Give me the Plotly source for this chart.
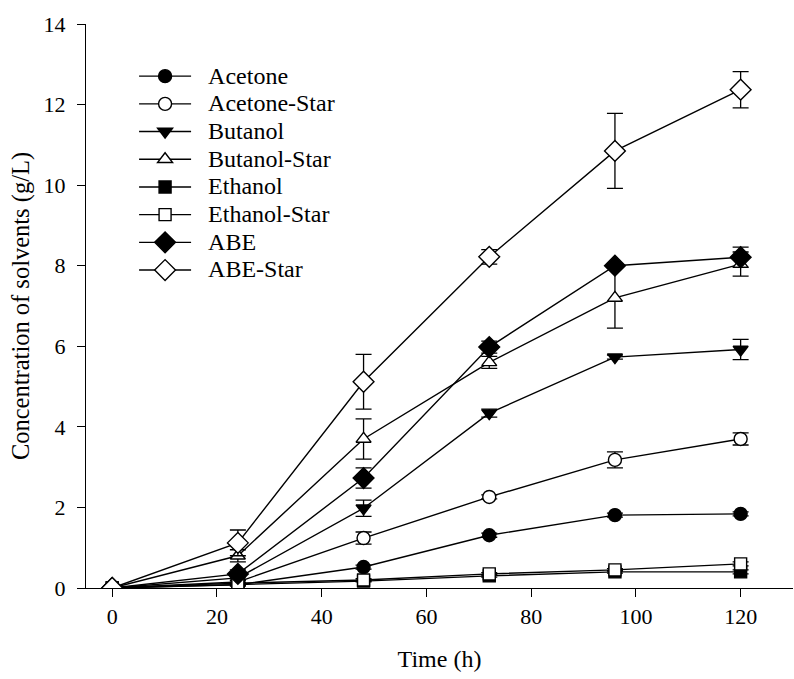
import plotly.graph_objects as go

time_h = [0, 24, 48, 72, 96, 120]

acetone = [0, 0.08, 0.52, 1.31, 1.81, 1.84]
acetone_err = [0, 0.03, 0.05, 0.05, 0.05, 0.05]
acetone_star = [0, 0.15, 1.24, 2.26, 3.18, 3.70]
acetone_star_err = [0, 0.03, 0.15, 0.05, 0.2, 0.15]
butanol = [0, 0.25, 1.98, 4.34, 5.73, 5.92]
butanol_err = [0, 0.05, 0.2, 0.1, 0.05, 0.25]
butanol_star = [0, 0.80, 3.70, 5.60, 7.20, 8.04]
butanol_star_err = [0, 0.15, 0.5, 0.15, 0.75, 0.3]
ethanol = [0, 0.08, 0.17, 0.30, 0.40, 0.40]
ethanol_err = [0, 0.02, 0.02, 0.03, 0.03, 0.05]
ethanol_star = [0, 0.12, 0.20, 0.35, 0.45, 0.60]
ethanol_star_err = [0, 0.02, 0.03, 0.03, 0.03, 0.05]
abe = [0, 0.35, 2.73, 5.98, 8.00, 8.21]
abe_err = [0, 0.1, 0.25, 0.15, 0.05, 0.25]
abe_star = [0, 1.12, 5.12, 8.22, 10.85, 12.37]
abe_star_err = [0, 0.32, 0.68, 0.18, 0.93, 0.45]

series = [
    ("Acetone", acetone, acetone_err, "circle", "black", 13),
    ("Acetone-Star", acetone_star, acetone_star_err, "circle", "white", 13),
    ("Butanol", butanol, butanol_err, "triangle-down", "black", 13),
    ("Butanol-Star", butanol_star, butanol_star_err, "triangle-up", "white", 13),
    ("Ethanol", ethanol, ethanol_err, "square", "black", 12),
    ("Ethanol-Star", ethanol_star, ethanol_star_err, "square", "white", 12),
    ("ABE", abe, abe_err, "diamond", "black", 16),
    ("ABE-Star", abe_star, abe_star_err, "diamond", "white", 16),
]

fig = go.Figure()
for name, vals, err, sym, fill, size in series:
    label = '<span style="font-size:24px">\u00a0\u00a0' + name + '</span>'
    fig.add_trace(go.Scatter(
        x=time_h, y=vals, name=label, mode="lines+markers",
        line=dict(color="black", width=1.4),
        marker=dict(symbol=sym, color=fill, size=size,
                    line=dict(color="black", width=1.4)),
        error_y=dict(type="data", array=err, visible=True,
                     color="black", thickness=1.3, width=8),
    ))

font = "Liberation Serif, Times New Roman, serif"
fig.update_layout(
    width=794, height=679,
    margin=dict(l=86, r=1, t=24, b=91),
    paper_bgcolor="white", plot_bgcolor="white",
    font=dict(family=font, size=22, color="black"),
    showlegend=True,
    legend=dict(x=0.068, y=0.941, xanchor="left", yanchor="top",
                bgcolor="rgba(0,0,0,0)", font=dict(family=font, size=19),
                itemwidth=52, tracegroupgap=0),
    xaxis=dict(range=[-5, 130], tickvals=[0, 20, 40, 60, 80, 100, 120],
               showgrid=False, zeroline=False, showline=True,
               linecolor="black", linewidth=1.4, ticks="outside",
               ticklen=8, tickwidth=1.4, tickcolor="black",
               title=dict(text="Time (h)", standoff=22, font=dict(size=24)),
               tickfont=dict(size=22)),
    yaxis=dict(range=[0, 14], tickvals=list(range(0, 15, 2)),
               showgrid=False, zeroline=False, showline=True,
               linecolor="black", linewidth=1.4, ticks="outside",
               ticklen=8, tickwidth=1.4, tickcolor="black",
               ticklabelstandoff=7,
               title=dict(text="Concentration of solvents (g/L)", standoff=6,
                          font=dict(size=24.5)),
               tickfont=dict(size=22)),
)

fig.write_html("out.html")
